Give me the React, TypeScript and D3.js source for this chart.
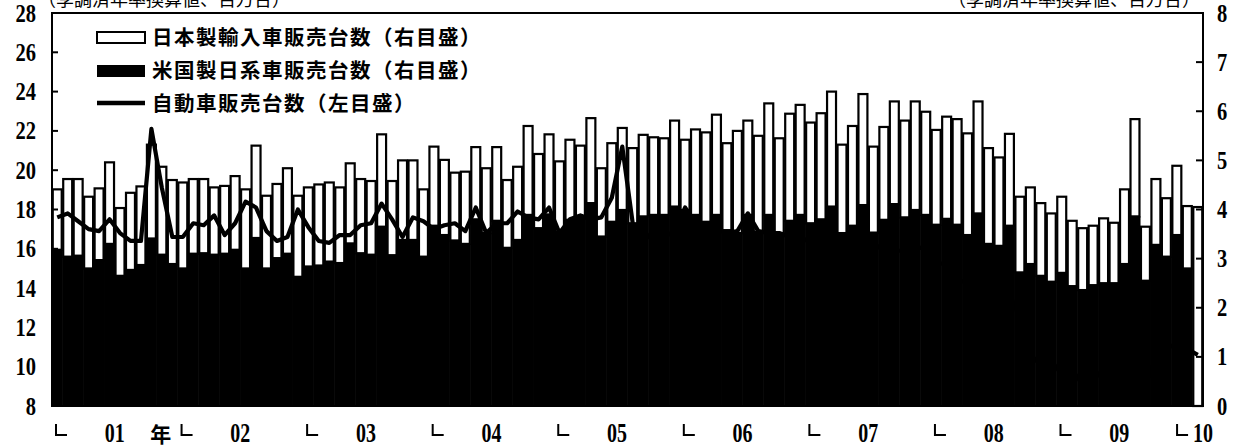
import React from "react";
import * as d3 from "d3";

// ---- Data (monthly, Jan 2001 – Feb 2010) ----
const startYear = 2001;

// 米国製日系車販売台数 (right axis, million units) – black
const usBuiltJapanese = [
  3.18, 3.04, 3.06, 2.8, 2.97, 3.3, 2.65, 2.77, 2.87, 3.41, 3.08, 2.89,
  2.8, 3.1, 3.11, 3.08, 3.1, 3.18, 2.8, 3.42, 2.8, 3.01, 3.1, 2.63,
  2.84, 2.86, 2.94, 2.91, 3.31, 3.11, 3.08, 3.65, 3.07, 3.38, 3.38, 3.04,
  3.67, 3.48, 3.37, 3.3, 3.8, 3.52, 3.77, 3.22, 3.38, 3.89, 3.62, 3.9,
  3.55, 3.79, 3.82, 4.13, 3.45, 3.75, 3.99, 3.72, 3.86, 3.89, 3.89, 4.06,
  3.99, 3.89, 3.75, 3.89, 3.58, 3.52, 3.89, 3.55, 3.89, 3.52, 3.77, 3.89,
  3.72, 3.8, 4.06, 3.52, 3.67, 4.09, 3.53, 3.79, 4.11, 3.84, 3.99, 3.89,
  3.69, 3.81, 3.69, 3.48, 3.92, 3.3, 3.26, 3.67, 2.72, 2.89, 2.65, 2.53,
  2.71, 2.44, 2.36, 2.46, 2.5, 2.5, 2.89, 3.86, 2.55, 3.28, 3.04, 3.48,
  2.8, 0,
];

// 日本製輸入車販売台数 (right axis, million units) – white, stacked on top
const japanImports = [
  1.23, 1.58, 1.56, 1.46, 1.46, 1.66, 1.38, 1.57, 1.6, 1.91, 1.79, 1.71,
  1.75, 1.52, 1.51, 1.37, 1.38, 1.5, 1.61, 1.88, 1.48, 1.51, 1.74, 1.65,
  1.61, 1.65, 1.61, 1.54, 1.63, 1.51, 1.5, 1.88, 1.51, 1.62, 1.62, 1.37,
  1.61, 1.53, 1.38, 1.47, 1.47, 1.32, 1.5, 1.38, 1.49, 1.81, 1.51, 1.63,
  1.43, 1.63, 1.48, 1.73, 1.39, 1.6, 1.67, 1.53, 1.66, 1.58, 1.56, 1.75,
  1.43, 1.74, 1.82, 2.04, 1.77, 2.08, 1.92, 1.95, 2.27, 1.93, 2.18, 2.24,
  2.05, 2.16, 2.34, 1.8, 2.03, 2.26, 1.75, 1.89, 2.09, 1.97, 2.21, 2.1,
  1.93, 2.08, 2.15, 2.07, 2.28, 1.95, 1.8, 1.87, 1.54, 1.56, 1.48, 1.39,
  1.55, 1.33, 1.26, 1.21, 1.32, 1.23, 1.52, 1.98, 1.1, 1.34, 1.19, 1.41,
  1.27, 4.05,
];

// 自動車販売台数 (left axis, million units, SAAR) – line
const autoSales = [
  17.6, 17.8, 17.4, 17.0, 16.9, 17.5, 16.8, 16.4, 16.4, 22.1, 19.1, 16.6,
  16.6, 17.3, 17.2, 17.7, 16.7, 17.3, 18.4, 18.1, 16.9, 16.4, 16.6, 18.0,
  17.1, 16.4, 16.3, 16.7, 16.7, 17.2, 17.3, 18.3, 17.5, 16.6, 17.6, 17.4,
  17.0, 17.2, 17.3, 16.9, 18.1, 16.8, 17.3, 17.3, 17.9, 17.6, 17.5, 18.1,
  16.8, 17.5, 17.7, 17.5, 17.6, 18.6, 21.2, 17.3, 16.9, 16.4, 16.6, 16.9,
  18.1, 17.3, 16.9, 17.0, 16.8, 16.9, 17.8, 16.9, 16.8, 16.8, 16.6, 16.3,
  16.6, 16.6, 16.2, 16.4, 16.2, 16.2, 15.9, 16.3, 15.9, 15.9, 16.1, 16.0,
  15.3, 15.2, 14.4, 14.3, 14.1, 13.6, 12.5, 13.7, 12.5, 10.6, 10.1, 10.3,
  9.6, 9.1, 9.8, 9.3, 9.9, 9.7, 11.2, 14.1, 9.2, 10.4, 10.9, 11.2,
  10.9, 10.6,
];

const yearLabels = ["01", "02", "03", "04", "05", "06", "07", "08", "09", "10"];
const leftTicks = [8, 10, 12, 14, 16, 18, 20, 22, 24, 26, 28];
const rightTicks = [0, 1, 2, 3, 4, 5, 6, 7, 8];
const legendLabels = [
  "日本製輸入車販売台数（右目盛）",
  "米国製日系車販売台数（右目盛）",
  "自動車販売台数（左目盛）",
];
const unitLabel = "（季調済年率換算値、百万台）";
const yearSuffix = "年";

const W = 1239;
const H = 445;
const M = { left: 52, right: 1203, top: 13, bottom: 406 };
const numFont = "'Liberation Serif', 'Times New Roman', serif";
const jpFont = "'Noto Sans CJK JP', 'Noto Sans', sans-serif";

function Num({ x, y, anchor, children, size = 25, sx = 0.82 }: any) {
  return (
    <text
      transform={`translate(${x},${y}) scale(${sx},1)`}
      textAnchor={anchor}
      fontFamily={numFont}
      fontWeight="bold"
      fontSize={size}
      fill="#000"
    >
      {children}
    </text>
  );
}

export default function App() {
  const n = autoSales.length;
  const x = d3
    .scaleBand<number>()
    .domain(d3.range(n))
    .range([M.left, M.right])
    .padding(0);
  const bw = x.bandwidth();
  const yL = d3.scaleLinear().domain([8, 28]).range([M.bottom, M.top]);
  const yR = d3.scaleLinear().domain([0, 8]).range([M.bottom, M.top]);

  const line = d3
    .line<number>()
    .x((_, i) => (x(i) as number) + bw / 2)
    .y((d) => yL(d));

  const inset = 0.75;

  return (
    <svg
      width={W}
      height={H}
      viewBox={`0 0 ${W} ${H}`}
      style={{ position: "absolute", left: 0, top: 0, background: "#fff" }}
    >
      <rect x={0} y={0} width={W} height={H} fill="#fff" />

      {/* header unit labels (cut off at the top, as in the source) */}
      <text x={38} y={6} fontFamily={jpFont} fontSize={18} fill="#000">
        {unitLabel}
      </text>
      <text x={1200} y={6} textAnchor="end" fontFamily={jpFont} fontSize={18} fill="#000">
        {unitLabel}
      </text>

      {/* black bars: US-built Japanese brand */}
      {usBuiltJapanese.map((v, i) => (
        <rect
          key={`b${i}`}
          x={(x(i) as number) - 0.3}
          y={yR(v)}
          width={bw + 0.6}
          height={M.bottom - yR(v)}
          fill="#000"
        />
      ))}

      {/* white bars: imports from Japan, stacked */}
      {japanImports.map((v, i) => {
        const base = usBuiltJapanese[i];
        const y0 = yR(base);
        const y1 = yR(base + v);
        return (
          <rect
            key={`w${i}`}
            x={(x(i) as number) + inset}
            y={y1}
            width={bw - inset * 2}
            height={y0 - y1}
            fill="#fff"
            stroke="#000"
            strokeWidth={2.2}
          />
        );
      })}

      {/* total auto sales line */}
      <path
        d={line(autoSales) || ""}
        fill="none"
        stroke="#000"
        strokeWidth={4.2}
        strokeLinejoin="round"
      />

      {/* frame */}
      <rect
        x={M.left}
        y={M.top}
        width={M.right - M.left}
        height={M.bottom - M.top}
        fill="none"
        stroke="#000"
        strokeWidth={2}
      />

      {/* left ticks + labels */}
      {leftTicks.map((t) => (
        <g key={`l${t}`}>
          {t > 8 && t < 28 && (
            <line x1={M.left} x2={M.left + 6} y1={yL(t)} y2={yL(t)} stroke="#000" strokeWidth={2} />
          )}
          <Num x={36} y={yL(t) + 8.5} anchor="end">
            {t}
          </Num>
        </g>
      ))}

      {/* right ticks + labels */}
      {rightTicks.map((t) => (
        <g key={`r${t}`}>
          {t > 0 && t < 8 && (
            <line x1={M.right - 7} x2={M.right} y1={yR(t)} y2={yR(t)} stroke="#000" strokeWidth={2} />
          )}
          <Num x={1217} y={yR(t) + 8.5} anchor="start">
            {t}
          </Num>
        </g>
      ))}

      {/* x axis: year start marks and labels */}
      {yearLabels.map((lab, k) => {
        const jan = k * 12;
        const last = k === yearLabels.length - 1;
        const lx = (x(jan) as number) + (last ? -5 : 4);
        const mid = last ? lx + 16 : (x(jan + 6) as number);
        return (
          <g key={`y${lab}`}>
            <path
              d={`M${lx},424 V435 H${lx + 11}`}
              fill="none"
              stroke="#000"
              strokeWidth={2}
            />
            <Num x={mid} y={442} anchor={last ? "start" : "middle"} size={27} sx={0.74}>
              {lab}
            </Num>
            {k === 0 && (
              <text x={mid + 46} y={442} textAnchor="middle" fontFamily={jpFont} fontWeight="bold" fontSize={21} fill="#000">
                {yearSuffix}
              </text>
            )}
          </g>
        );
      })}

      {/* legend */}
      <g>
        <rect x={97} y={32} width={48} height={11} fill="#fff" stroke="#000" strokeWidth={2} />
        <rect x={97} y={65} width={48} height={12} fill="#000" />
        <line x1={97} x2={145} y1={103} y2={103} stroke="#000" strokeWidth={4.5} />
        {legendLabels.map((t, i) => (
          <text
            key={t}
            x={152}
            y={[45, 78, 111][i]}
            fontFamily={jpFont}
            fontWeight="bold"
            fontSize={20.5}
            letterSpacing={1.5}
            fill="#000"
          >
            {t}
          </text>
        ))}
      </g>
    </svg>
  );
}
